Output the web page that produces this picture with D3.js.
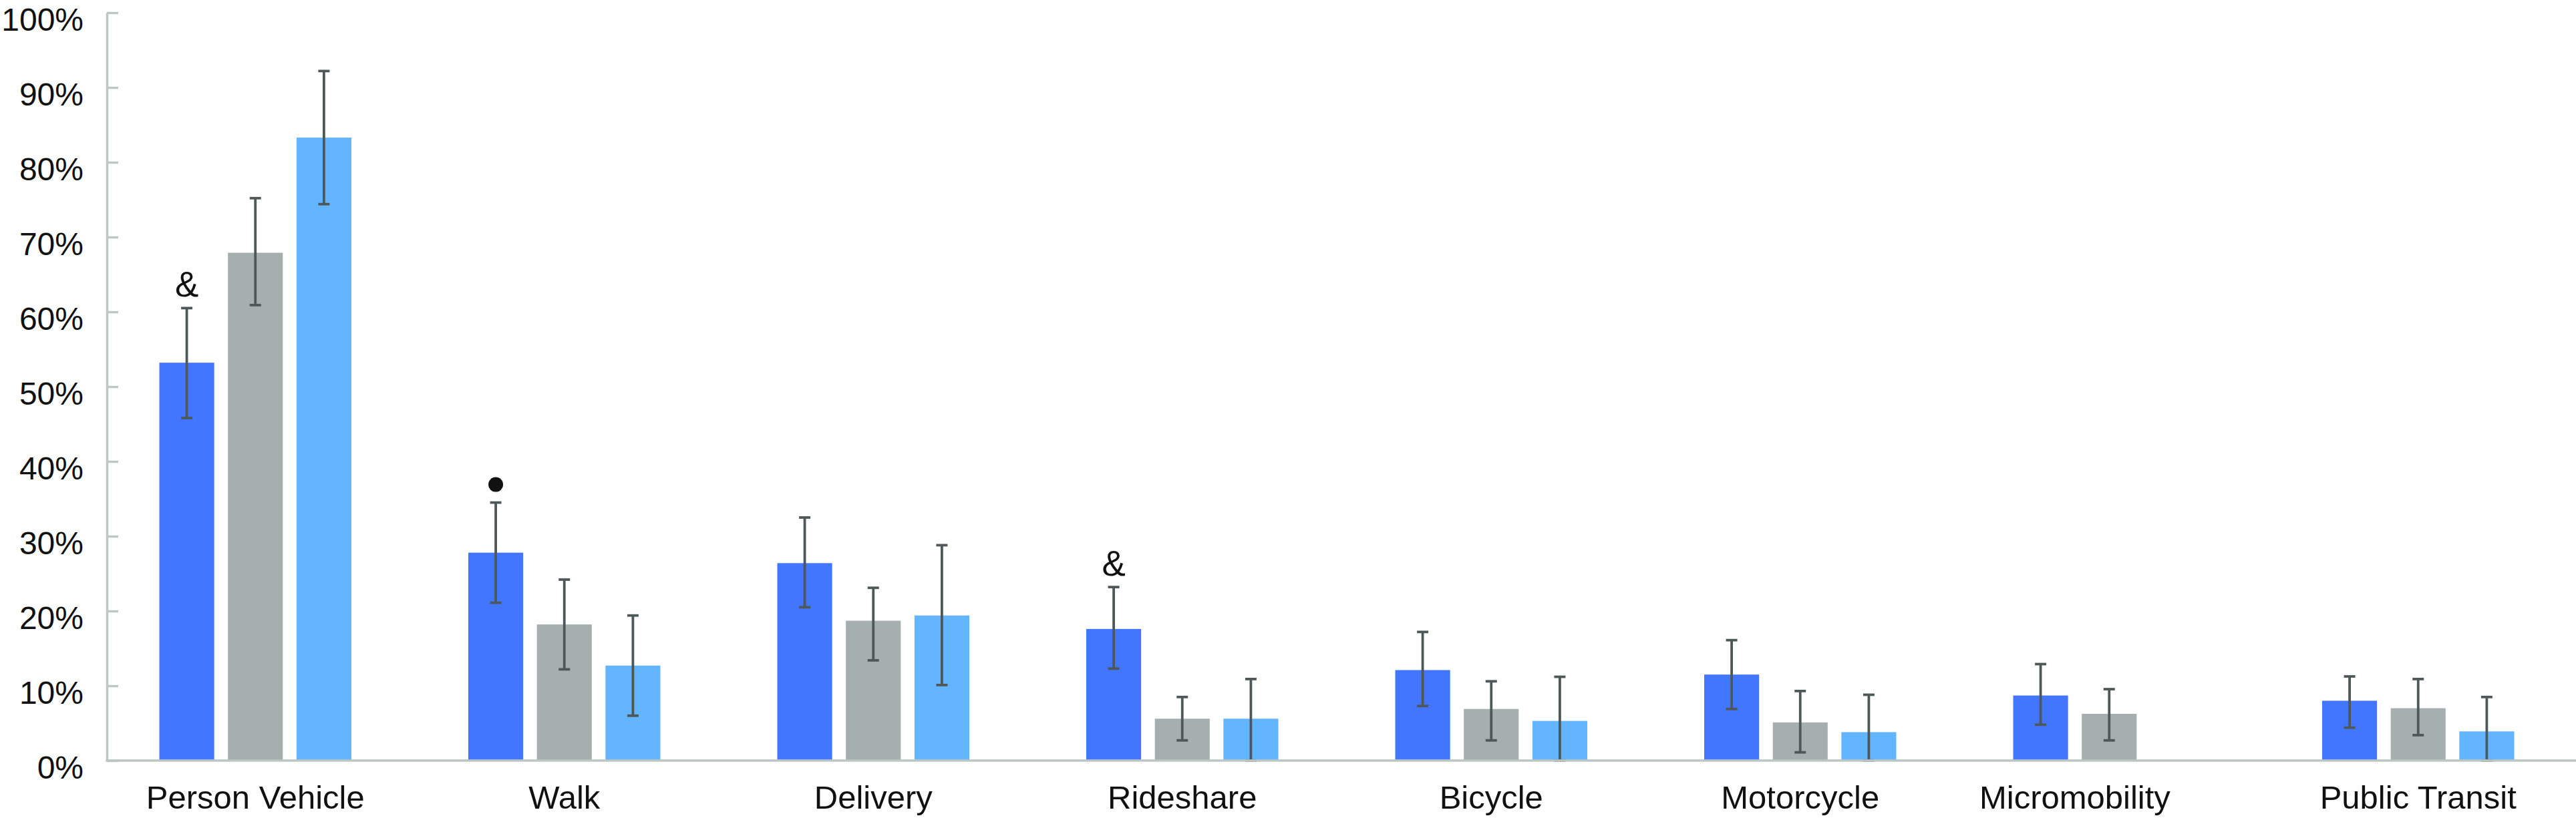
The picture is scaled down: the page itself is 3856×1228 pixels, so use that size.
<!DOCTYPE html>
<html>
<head>
<meta charset="utf-8">
<script src="https://cdn.jsdelivr.net/npm/d3@7"></script>
<style>
  html, body { margin: 0; padding: 0; background: #ffffff; }
  svg { display: block; }
  text { font-family: "Liberation Sans", Arial, Helvetica, sans-serif; fill: #111; }
</style>
</head>
<body>
<script>
// ---------------- data ----------------
const categories = ["Person Vehicle", "Walk", "Delivery", "Rideshare", "Bicycle", "Motorcycle", "Micromobility", "Public Transit"];
const seriesNames = ["Series 1", "Series 2", "Series 3"];

// values in percent
const series1 = [53.2, 27.8, 26.4, 17.6, 12.1, 11.5, 8.7, 8.0];
const series1Low = [45.8, 21.1, 20.5, 12.3, 7.3, 6.9, 4.8, 4.4];
const series1High = [60.5, 34.5, 32.5, 23.2, 17.2, 16.1, 12.9, 11.25];

const series2 = [67.9, 18.2, 18.7, 5.6, 6.9, 5.1, 6.25, 7.0];
const series2Low = [60.9, 12.2, 13.4, 2.7, 2.7, 1.1, 2.7, 3.4];
const series2High = [75.2, 24.2, 23.1, 8.5, 10.6, 9.3, 9.55, 10.9];

const series3 = [83.3, 12.7, 19.4, 5.6, 5.3, 3.8, null, 3.9];
const series3Low = [74.4, 6.0, 10.1, 0, 0, 0, null, 0];
const series3High = [92.2, 19.4, 28.8, 10.9, 11.2, 8.8, null, 8.5];

const yTicks = [0, 10, 20, 30, 40, 50, 60, 70, 80, 90, 100];

// significance markers: category, series index, symbol
const markerCats = ["Person Vehicle", "Walk", "Rideshare"];
const markerSeries = [0, 0, 0];
const markerSymbols = ["&", "•", "&"];

// ---------------- build ----------------
const W = 3856, H = 1228;
const colors = ["#4376ff", "#a5afae", "#64b5ff"];
const errColor = "#4f5858";
const axisColor = "#bcc6c3";

const values = [series1, series2, series3];
const lows = [series1Low, series2Low, series3Low];
const highs = [series1High, series2High, series3High];

const rows = [];
categories.forEach((c, i) => {
  seriesNames.forEach((s, j) => {
    if (values[j][i] !== null) {
      rows.push({ cat: c, ser: s, si: j, v: values[j][i], lo: lows[j][i], hi: highs[j][i] });
    }
  });
});

const svg = d3.select("body").append("svg").attr("width", W).attr("height", H);

const axisX = 160;
const y = d3.scaleLinear().domain([0, 100]).range([1139, 19]);
const x0 = d3.scaleBand().domain(categories).range([151, 3851]).paddingInner(0).paddingOuter(0);
const x1 = d3.scaleBand().domain(seriesNames).range([-154, 154]).paddingInner(0.2).paddingOuter(0.1);
const cx = d => x0(d.cat) + x0.bandwidth() / 2 + x1(d.ser);

// bars
svg.append("g").selectAll("rect").data(rows).join("rect")
  .attr("x", d => cx(d))
  .attr("y", d => y(d.v))
  .attr("width", x1.bandwidth())
  .attr("height", d => y(0) - y(d.v))
  .attr("fill", d => colors[d.si]);

// error bars
const eb = svg.append("g").attr("stroke", errColor).attr("stroke-width", 3.8);
const capW = 17;
eb.selectAll("line.v").data(rows).join("line").attr("class", "v")
  .attr("x1", d => cx(d) + x1.bandwidth() / 2).attr("x2", d => cx(d) + x1.bandwidth() / 2)
  .attr("y1", d => y(d.lo)).attr("y2", d => y(d.hi));
eb.selectAll("line.t").data(rows).join("line").attr("class", "t")
  .attr("x1", d => cx(d) + x1.bandwidth() / 2 - capW / 2).attr("x2", d => cx(d) + x1.bandwidth() / 2 + capW / 2)
  .attr("y1", d => y(d.hi)).attr("y2", d => y(d.hi));
eb.selectAll("line.b").data(rows).join("line").attr("class", "b")
  .attr("x1", d => cx(d) + x1.bandwidth() / 2 - capW / 2).attr("x2", d => cx(d) + x1.bandwidth() / 2 + capW / 2)
  .attr("y1", d => y(d.lo)).attr("y2", d => y(d.lo));

// y axis
const yAxis = d3.axisLeft(y).tickValues(yTicks).tickFormat(d => d + "%")
  .tickSize(-17).tickSizeOuter(0).tickPadding(35);
const ga = svg.append("g").attr("transform", `translate(${axisX},0)`).call(yAxis);
ga.select(".domain").attr("stroke", axisColor).attr("stroke-width", 3.4);
ga.selectAll(".tick line").attr("stroke", axisColor).attr("stroke-width", 3.4);
ga.selectAll(".tick text").attr("dy", "0.56em").style("font-size", "48px")
  .style("font-family", "'Liberation Sans', Arial, sans-serif").attr("fill", "#111");

// baseline
svg.append("line").attr("x1", axisX - 1.7).attr("x2", W).attr("y1", y(0)).attr("y2", y(0))
  .attr("stroke", axisColor).attr("stroke-width", 3.6);

// category labels (centred on the bars that are present)
const labelX = c => {
  const r = rows.filter(d => d.cat === c);
  const xs = r.map(d => cx(d) + x1.bandwidth() / 2);
  return (d3.min(xs) + d3.max(xs)) / 2;
};
svg.append("g").selectAll("text").data(categories).join("text")
  .attr("x", d => labelX(d)).attr("y", 1211)
  .attr("text-anchor", "middle").style("font-size", "49px")
  .text(d => d);

// significance markers
markerCats.forEach((c, k) => {
  const d = rows.find(r => r.cat === c && r.si === markerSeries[k]);
  const mx = cx(d) + x1.bandwidth() / 2;
  if (markerSymbols[k] === "•") {
    svg.append("circle").attr("cx", mx).attr("cy", y(d.hi) - 27).attr("r", 11).attr("fill", "#111");
  } else {
    svg.append("text").attr("x", mx).attr("y", y(d.hi) - 17)
      .attr("text-anchor", "middle").style("font-size", "53px").text(markerSymbols[k]);
  }
});
</script>
</body>
</html>
